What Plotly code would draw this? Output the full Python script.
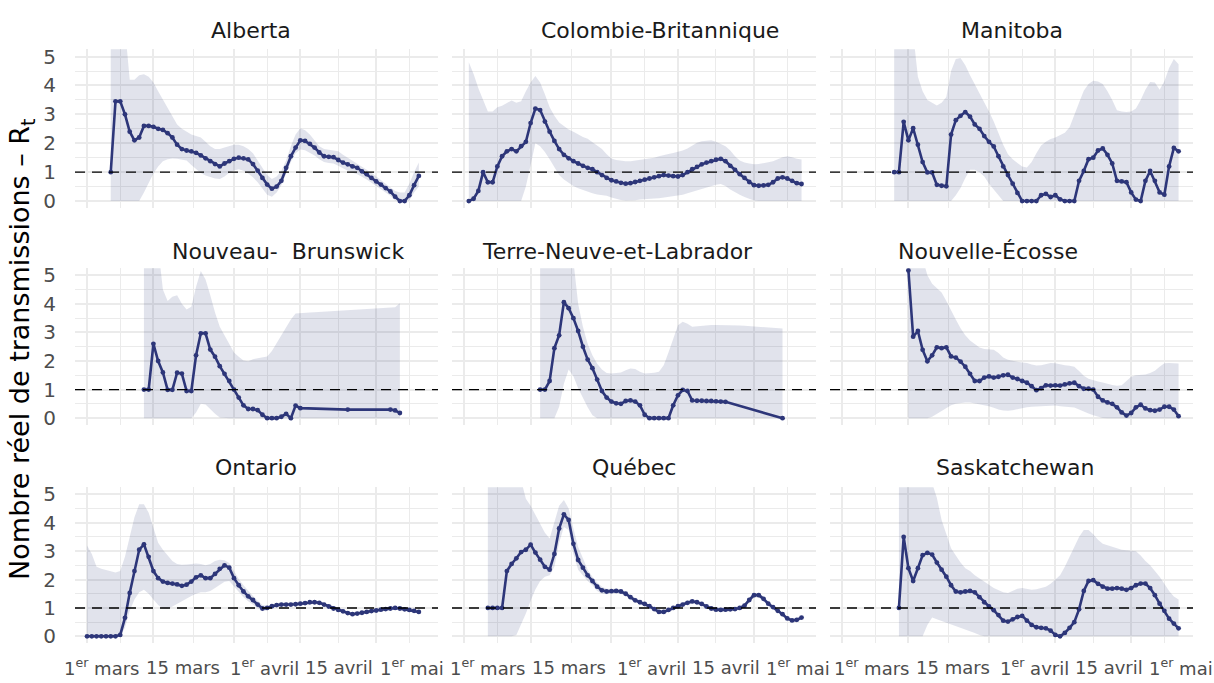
import plotly.graph_objects as go
import pandas as pd

# ---------------- data ----------------
panel_titles = ["Alberta", "Colombie-Britannique", "Manitoba",
                "Nouveau-\u00a0 Brunswick", "Terre-Neuve-et-Labrador", "Nouvelle-Écosse",
                "Ontario", "Québec", "Saskatchewan"]

y_ticks = [0, 1, 2, 3, 4, 5]
y_minor = [0.5, 1.5, 2.5, 3.5, 4.5]
ref_value = 1
x_tick_dates = ["2020-03-01", "2020-03-15", "2020-04-01", "2020-04-15", "2020-05-01"]
x_minor_dates = ["2020-03-08", "2020-03-23 12:00", "2020-04-08", "2020-04-23", "2020-05-08"]
x_tick_labels = ["1<sup>er</sup> mars", "15 mars", "1<sup>er</sup> avril", "15 avril", "1<sup>er</sup> mai"]

alberta_start = "2020-03-06"
alberta_rt = [1.0, 3.45, 3.45, 3.0, 2.4, 2.1, 2.2, 2.6, 2.6, 2.57, 2.5, 2.46, 2.35, 2.2, 1.95, 1.8, 1.75, 1.72, 1.67, 1.58,
              1.48, 1.38, 1.28, 1.2, 1.3, 1.38, 1.46, 1.5, 1.48, 1.44, 1.28, 1.05, 0.8, 0.57, 0.43, 0.5, 0.7, 1.15, 1.55, 1.85,
              2.1, 2.08, 1.98, 1.85, 1.68, 1.55, 1.53, 1.52, 1.42, 1.33, 1.27, 1.2, 1.15, 1.03, 0.93, 0.8, 0.68, 0.57, 0.45, 0.33,
              0.15, 0.0, 0.0, 0.2, 0.55, 0.87]
alberta_hi = [6, 6, 6, 6, 4.2, 4.2, 4.35, 4.39, 4.3, 4.1, 3.8, 3.5, 3.2, 2.9, 2.65, 2.5, 2.4, 2.3, 2.25, 2.2,
              2.05, 1.9, 1.8, 1.8, 1.85, 1.9, 1.95, 1.95, 1.9, 1.8, 1.65, 1.4, 1.15, 0.9, 0.76, 0.85, 1.05, 1.4, 1.9, 2.3,
              2.52, 2.45, 2.3, 2.1, 1.9, 1.8, 1.78, 1.75, 1.72, 1.6, 1.5, 1.4, 1.3, 1.2, 1.1, 0.98, 0.85, 0.72, 0.6, 0.48,
              0.35, 0.3, 0.3, 0.6, 1.0, 1.33]
alberta_lo = [0, 0, 0, 0, 0, 0, 0.0, 0.3, 0.65, 0.95, 1.2, 1.38, 1.45, 1.47, 1.46, 1.44, 1.4, 1.25, 1.1, 0.97,
              0.88, 0.82, 0.78, 0.76, 0.85, 0.98, 1.06, 1.1, 1.05, 0.95, 0.82, 0.65, 0.42, 0.22, 0.15, 0.3, 0.55, 0.95, 1.35, 1.65,
              1.78, 1.76, 1.68, 1.58, 1.45, 1.35, 1.32, 1.3, 1.22, 1.12, 1.05, 0.98, 0.93, 0.84, 0.75, 0.63, 0.52, 0.42, 0.3, 0.18,
              0.02, 0.0, 0.0, 0.02, 0.3, 0.5]

bc_start = "2020-03-02"
bc_rt = [0.0, 0.08, 0.35, 1.0, 0.65, 0.65, 1.2, 1.55, 1.72, 1.8, 1.72, 1.9, 2.05, 2.7, 3.2, 3.15, 2.75, 2.4, 2.08, 1.8,
         1.6, 1.48, 1.38, 1.3, 1.22, 1.15, 1.1, 1.0, 0.9, 0.8, 0.72, 0.68, 0.63, 0.6, 0.62, 0.66, 0.7, 0.74, 0.78, 0.82,
         0.86, 0.9, 0.88, 0.86, 0.85, 0.9, 1.0, 1.1, 1.18, 1.27, 1.33, 1.38, 1.43, 1.46, 1.38, 1.22, 1.08, 0.93, 0.8, 0.66,
         0.55, 0.53, 0.54, 0.56, 0.65, 0.78, 0.82, 0.78, 0.7, 0.62, 0.59]
bc_hi = [4.8, 4.4, 3.9, 3.5, 3.1, 3.1, 3.25, 3.3, 3.4, 3.48, 3.4, 3.45, 3.8, 4.1, 4.33, 4.1, 3.7, 3.25, 2.95, 2.72,
         2.6, 2.48, 2.4, 2.3, 2.22, 2.16, 2.05, 1.92, 1.8, 1.62, 1.47, 1.42, 1.39, 1.38, 1.38, 1.4, 1.42, 1.44, 1.47, 1.5,
         1.55, 1.6, 1.63, 1.66, 1.7, 1.75, 1.82, 1.92, 2.02, 2.07, 2.09, 2.1, 2.05, 1.98, 1.9, 1.75, 1.55, 1.4, 1.33, 1.3,
         1.27, 1.28, 1.3, 1.34, 1.38, 1.45, 1.52, 1.55, 1.52, 1.46, 1.44]
bc_lo = [0, 0, 0, 0, 0, 0, 0, 0, 0, 0, 0, 0, 0.5, 1.3, 2.0, 1.9, 1.7, 1.45, 1.15, 0.9,
         0.75, 0.62, 0.52, 0.44, 0.38, 0.32, 0.27, 0.23, 0.2, 0.18, 0.12, 0.07, 0.04, 0.02, 0.02, 0.03, 0.05, 0.07, 0.08, 0.09,
         0.1, 0.12, 0.14, 0.16, 0.19, 0.22, 0.27, 0.32, 0.37, 0.41, 0.45, 0.5, 0.56, 0.59, 0.52, 0.4, 0.3, 0.22, 0.14, 0.07,
         0.02, 0, 0, 0, 0, 0, 0, 0, 0, 0, 0]

manitoba_start = "2020-03-12"
manitoba_rt = [1.0, 1.0, 2.74, 2.1, 2.52, 1.95, 1.35, 0.99, 0.99, 0.56, 0.53, 0.51, 2.3, 2.8, 2.95, 3.08, 2.92, 2.65, 2.5, 2.25,
               2.05, 1.89, 1.55, 1.2, 0.9, 0.6, 0.28, 0.0, 0.0, 0.0, 0.0, 0.2, 0.25, 0.14, 0.2, 0.06, 0.0, 0.0, 0.0, 0.7,
               1.04, 1.45, 1.5, 1.75, 1.82, 1.6, 1.3, 0.7, 0.68, 0.65, 0.3, 0.05, 0.0, 0.7, 1.04, 0.7, 0.3, 0.22, 1.2, 1.84,
               1.72]
manitoba_hi = [6, 6, 6, 6, 5.8, 4.3, 3.8, 3.5, 3.4, 3.31, 3.4, 3.6, 4.5, 4.92, 4.95, 4.7, 4.35, 4.05, 3.75, 3.45,
               3.1, 2.75, 2.35, 1.95, 1.62, 1.45, 1.32, 1.2, 1.16, 1.35, 1.65, 1.92, 2.05, 2.15, 2.2, 2.28, 2.36, 2.55, 2.95, 3.4,
               3.82, 4.05, 4.16, 4.14, 4.05, 3.8, 3.5, 3.14, 3.1, 3.08, 3.1, 3.2, 3.5, 3.85, 4.12, 4.1, 3.85, 4.15, 4.6, 4.92,
               4.73]
manitoba_lo = [0, 0, 0, 0, 0, 0, 0, 0, 0, 0, 0, 0, 0, 0.2, 0.45, 0.8, 1.08, 1.08, 1.0, 0.85,
               0.6, 0.4, 0.18, 0, 0, 0, 0, 0, 0, 0, 0, 0, 0, 0, 0, 0, 0, 0, 0, 0,
               0, 0, 0, 0, 0, 0, 0, 0, 0, 0, 0, 0, 0, 0, 0, 0, 0, 0, 0, 0,
               0]

nb_start = "2020-03-13"
nb_rt = [1.0, 1.0, 2.6, 2.0, 1.6, 0.99, 0.99, 1.59, 1.56, 0.95, 0.95, 2.2, 2.97, 2.97, 2.4, 2.15, 1.82, 1.55, 1.3, 1.0,
         0.72, 0.45, 0.32, 0.32, 0.28, 0.12, 0.0, 0.0, 0.0, 0.05, 0.15, 0.0, 0.44, 0.35,
         None, None, None, None, None, None, None, None, None, 0.3,
         None, None, None, None, None, None, None, None, 0.3, 0.27, 0.18]
nb_hi = [6, 6, 6, 6, 4.5, 4.1, 4.25, 4.3, 4.0, 3.8, 3.9, 4.6, 5.15, 4.85, 4.3, 3.7, 3.2, 2.9, 2.55, 2.3,
         2.15, 2.02, 1.99, 2.06, 2.1, 2.12, 2.16, 2.35, 2.62, 2.9, 3.2, 3.45, 3.66, 3.68, 3.69, 3.7, 3.71, 3.72, 3.73, 3.74,
         3.75, 3.76, 3.77, 3.77, 3.78, 3.79, 3.8, 3.81, 3.82, 3.83, 3.84, 3.85, 3.86, 3.88, 4.02]
nb_lo = [0, 0, 0, 0, 0, 0, 0, 0, 0, 0, 0, 0.2, 0.5, 0.48, 0.3, 0.15, 0.02, 0, 0, 0,
         0, 0, 0, 0, 0, 0, 0, 0, 0, 0, 0, 0, 0, 0, 0, 0, 0, 0, 0, 0,
         0, 0, 0, 0, 0, 0, 0, 0, 0, 0, 0, 0, 0, 0, 0]

nl_start = "2020-03-17"
nl_rt = [1.0, 1.0, 1.3, 2.45, 2.9, 4.06, 3.85, 3.5, 3.05, 2.5, 2.05, 1.75, 1.35, 0.95, 0.72, 0.58, 0.52, 0.5, 0.6, 0.62,
         0.58, 0.45, 0.12, 0.0, 0.0, 0.0, 0.0, 0.0, 0.45, 0.8, 0.99, 0.95, 0.62, 0.61, 0.61, 0.6, 0.6, 0.59, 0.58, 0.57,
         None, None, None, None, None, None, None, None, None, None, None, 0.0]
nl_hi = [6, 6, 6, 6, 6, 6, 6, 5.5, 4.0, 3.2, 2.6, 2.2, 1.9, 1.7, 1.58, 1.56, 1.58, 1.6, 1.68, 1.74,
         1.72, 1.62, 1.56, 1.57, 1.59, 1.62, 1.85, 2.3, 2.8, 3.25, 3.37, 3.3, 3.2, 3.22, 3.24, 3.25, 3.26, 3.26, 3.26, 3.25,
         3.25, 3.25, 3.24, 3.23, 3.22, 3.21, 3.2, 3.18, 3.17, 3.16, 3.15, 3.14]
nl_lo = [0, 0, 0, 0, 0.4, 1.2, 1.7, 1.47, 1.05, 0.7, 0.38, 0.1, 0.0, 0, 0, 0, 0, 0, 0, 0,
         0, 0, 0, 0, 0, 0, 0, 0, 0, 0, 0, 0, 0, 0, 0, 0, 0, 0, 0, 0,
         0, 0, 0, 0, 0, 0, 0, 0, 0, 0, 0, 0]

ns_start = "2020-03-15"
ns_rt = [5.17, 2.85, 3.05, 2.39, 1.99, 2.2, 2.48, 2.45, 2.48, 2.16, 2.12, 1.98, 1.8, 1.55, 1.3, 1.3, 1.42, 1.46, 1.42, 1.45,
         1.5, 1.52, 1.42, 1.37, 1.3, 1.24, 1.12, 0.98, 1.05, 1.15, 1.14, 1.15, 1.14, 1.18, 1.22, 1.24, 1.12, 1.03, 1.03, 1.0,
         0.75, 0.62, 0.55, 0.5, 0.38, 0.2, 0.09, 0.18, 0.38, 0.47, 0.34, 0.28, 0.26, 0.3, 0.4, 0.4, 0.3, 0.07]
ns_hi = [6, 6, 6, 5.6, 5.0, 4.7, 4.55, 4.4, 4.1, 3.75, 3.45, 3.15, 2.9, 2.72, 2.58, 2.47, 2.42, 2.4, 2.39, 2.28,
         2.12, 2.04, 2.0, 1.97, 1.95, 1.93, 1.88, 1.84, 1.85, 1.9, 1.93, 1.92, 1.88, 1.85, 1.83, 1.8, 1.65, 1.48, 1.38, 1.32,
         1.28, 1.25, 1.2, 1.16, 1.13, 1.15, 1.3, 1.45, 1.5, 1.52, 1.53, 1.58, 1.66, 1.8, 1.92, 1.93, 1.92, 1.91]
ns_lo = [0, 0, 0, 0, 0, 0.05, 0.15, 0.24, 0.35, 0.45, 0.5, 0.53, 0.55, 0.55, 0.52, 0.48, 0.45, 0.42, 0.36, 0.3,
         0.27, 0.26, 0.28, 0.32, 0.35, 0.38, 0.4, 0.41, 0.42, 0.43, 0.44, 0.44, 0.42, 0.4, 0.39, 0.37, 0.3, 0.22, 0.16, 0.1,
         0.05, 0.01, 0, 0, 0, 0, 0, 0, 0, 0, 0, 0, 0, 0, 0, 0, 0, 0]

ontario_start = "2020-03-01"
ontario_rt = [0, 0, 0, 0, 0, 0, 0, 0.05, 0.65, 1.53, 2.3, 3.05, 3.24, 2.8, 2.3, 2.05, 1.93, 1.88, 1.86, 1.83,
              1.78, 1.82, 1.93, 2.08, 2.15, 2.05, 2.05, 2.2, 2.38, 2.5, 2.42, 2.05, 1.8, 1.58, 1.41, 1.28, 1.12, 0.98, 1.0, 1.06,
              1.1, 1.12, 1.12, 1.12, 1.13, 1.15, 1.17, 1.2, 1.2, 1.18, 1.12, 1.05, 0.98, 0.93, 0.88, 0.82, 0.78, 0.8, 0.83, 0.86,
              0.89, 0.91, 0.94, 0.96, 0.98, 1.0, 0.98, 0.95, 0.93, 0.9, 0.86]
ontario_hi = [3.2, 2.9, 2.45, 2.38, 2.34, 2.3, 2.25, 2.3, 2.8, 3.5, 4.2, 4.65, 4.65, 4.35, 3.8, 3.3, 3.05, 2.85, 2.65, 2.55,
              2.52, 2.53, 2.56, 2.57, 2.55, 2.5, 2.55, 2.65, 2.7, 2.68, 2.58, 2.3, 2.02, 1.8, 1.6, 1.42, 1.25, 1.1, 1.08, 1.12,
              1.16, 1.18, 1.18, 1.18, 1.19, 1.21, 1.23, 1.26, 1.26, 1.24, 1.18, 1.11, 1.04, 0.99, 0.94, 0.88, 0.84, 0.86, 0.89, 0.92,
              0.95, 0.97, 1.0, 1.02, 1.04, 1.06, 1.04, 1.01, 0.99, 0.96, 0.93]
ontario_lo = [0, 0, 0, 0, 0, 0, 0, 0, 0.3, 0.9, 1.3, 1.55, 1.64, 1.5, 1.3, 1.1, 0.98, 0.96, 1.05, 1.15,
              1.25, 1.35, 1.42, 1.5, 1.55, 1.55, 1.6, 1.7, 1.82, 1.92, 1.95, 1.75, 1.55, 1.38, 1.24, 1.13, 1.0, 0.88, 0.92, 1.0,
              1.04, 1.06, 1.06, 1.06, 1.07, 1.09, 1.11, 1.14, 1.14, 1.12, 1.06, 0.99, 0.92, 0.87, 0.82, 0.76, 0.72, 0.74, 0.77, 0.8,
              0.83, 0.85, 0.88, 0.9, 0.92, 0.94, 0.92, 0.89, 0.87, 0.84, 0.8]

quebec_start = "2020-03-06"
quebec_rt = [1.0, 1.0, 1.0, 1.0, 2.3, 2.55, 2.75, 2.97, 3.05, 3.23, 2.95, 2.7, 2.45, 2.35, 2.9, 3.8, 4.3, 4.1, 3.26, 2.69,
             2.42, 2.15, 1.95, 1.75, 1.62, 1.58, 1.59, 1.6, 1.58, 1.5, 1.38, 1.27, 1.2, 1.14, 1.06, 0.96, 0.86, 0.86, 0.93, 1.0,
             1.06, 1.12, 1.18, 1.23, 1.2, 1.14, 1.05, 0.98, 0.94, 0.93, 0.94, 0.95, 0.96, 1.0, 1.08, 1.28, 1.45, 1.45, 1.32, 1.15,
             1.03, 0.9, 0.78, 0.63, 0.56, 0.58, 0.66]
quebec_hi = [6, 6, 6, 6, 6, 6, 6, 5.5, 4.85, 4.6, 4.3, 4.0, 3.65, 3.45, 4.0, 4.6, 4.8, 4.5, 3.8, 3.15,
             2.75, 2.35, 2.1, 1.9, 1.75, 1.68, 1.67, 1.68, 1.66, 1.58, 1.46, 1.35, 1.27, 1.21, 1.13, 1.03, 0.93, 0.93, 1.0, 1.07,
             1.13, 1.19, 1.25, 1.3, 1.27, 1.21, 1.12, 1.05, 1.01, 1.0, 1.01, 1.02, 1.03, 1.07, 1.15, 1.36, 1.53, 1.53, 1.4, 1.23,
             1.1, 0.97, 0.85, 0.7, 0.63, 0.65, 0.73]
quebec_lo = [0, 0, 0, 0, 0, 0, 0.05, 0.4, 0.8, 1.25, 1.65, 1.95, 2.1, 2.15, 2.45, 3.3, 3.85, 3.75, 2.9, 2.35,
             2.15, 1.95, 1.8, 1.6, 1.5, 1.48, 1.51, 1.52, 1.5, 1.42, 1.3, 1.2, 1.13, 1.07, 0.99, 0.89, 0.79, 0.79, 0.86, 0.93,
             0.99, 1.05, 1.11, 1.16, 1.13, 1.07, 0.98, 0.91, 0.87, 0.86, 0.87, 0.88, 0.89, 0.93, 1.01, 1.2, 1.37, 1.37, 1.24, 1.07,
             0.96, 0.83, 0.71, 0.56, 0.49, 0.51, 0.59]

sask_start = "2020-03-13"
sask_rt = [1.0, 3.5, 2.4, 1.95, 2.4, 2.86, 2.94, 2.88, 2.6, 2.35, 2.1, 1.8, 1.58, 1.55, 1.58, 1.6, 1.55, 1.38, 1.2, 1.05,
           0.92, 0.75, 0.55, 0.52, 0.6, 0.68, 0.72, 0.55, 0.4, 0.32, 0.3, 0.28, 0.2, 0.05, 0.0, 0.12, 0.3, 0.5, 0.95, 1.6,
           1.95, 1.98, 1.85, 1.75, 1.68, 1.68, 1.7, 1.68, 1.64, 1.7, 1.8, 1.86, 1.86, 1.7, 1.45, 1.15, 0.9, 0.62, 0.45, 0.28]
sask_hi = [6, 6, 6, 6, 6, 6, 6, 5.4, 4.88, 4.1, 3.6, 3.1, 2.85, 2.6, 2.4, 2.3, 2.15, 2.05, 1.95, 1.82,
           1.7, 1.62, 1.55, 1.53, 1.6, 1.68, 1.7, 1.67, 1.64, 1.66, 1.7, 1.75, 1.85, 2.0, 2.15, 2.45, 2.8, 3.15, 3.5, 3.75,
           3.75, 3.6, 3.4, 3.26, 3.2, 3.15, 3.1, 3.05, 3.03, 3.03, 3.0, 2.85, 2.65, 2.5, 2.3, 2.1, 1.85, 1.6, 1.4, 1.3]
sask_lo = [0, 0, 0, 0, 0, 0, 0.4, 0.66, 0.6, 0.54, 0.48, 0.42, 0.37, 0.3, 0.25, 0.2, 0.12, 0.05, 0.0, 0,
           0, 0, 0, 0, 0, 0, 0, 0, 0, 0, 0, 0, 0, 0, 0, 0, 0, 0, 0, 0,
           0, 0, 0, 0, 0, 0, 0, 0, 0, 0, 0, 0, 0, 0, 0, 0, 0, 0, 0, 0]

series = [
    (alberta_start, alberta_rt, alberta_lo, alberta_hi),
    (bc_start, bc_rt, bc_lo, bc_hi),
    (manitoba_start, manitoba_rt, manitoba_lo, manitoba_hi),
    (nb_start, nb_rt, nb_lo, nb_hi),
    (nl_start, nl_rt, nl_lo, nl_hi),
    (ns_start, ns_rt, ns_lo, ns_hi),
    (ontario_start, ontario_rt, ontario_lo, ontario_hi),
    (quebec_start, quebec_rt, quebec_lo, quebec_hi),
    (sask_start, sask_rt, sask_lo, sask_hi),
]

# ---------------- layout / style ----------------
W, H = 1214, 683
FONT = "DejaVu Sans, Liberation Sans, Arial, sans-serif"
LINE_COLOR = "#2D3679"
RIBBON = "rgba(45,54,121,0.14)"
GRID = "#EBEBEB"
TICK_GREY = "#4D4D4D"
x_range = ["2020-02-27 11:00", "2020-05-14 01:00"]
y_range = [-0.25, 5.25]

col_px = [(75, 438), (452, 816), (830, 1193)]
row_px = [(45.0, 206.3), (267.05, 426.55), (489.5, 647.9)]
title_cx = [251, 659.5, 1011.7, 288, 617.5, 987.5, 255.8, 634, 1015]
title_cy = [26.3, 250, 469.7]
label_left_shift = [-24.7, -9.1, -5.6, 3.0, 1.6]
col_label_shift = [0, 8.7, 14.3]
label_cy = 672

fig = go.Figure()
layout = dict(width=W, height=H, margin=dict(l=0, r=0, t=0, b=0),
              plot_bgcolor="white", paper_bgcolor="white", showlegend=False,
              font=dict(family=FONT, color=TICK_GREY), shapes=[], annotations=[])

for i, (start, rt, lo, hi) in enumerate(series):
    r, c = divmod(i, 3)
    n = i + 1
    xa = "x" if n == 1 else f"x{n}"
    ya = "y" if n == 1 else f"y{n}"
    dates = pd.date_range(start, periods=len(rt), freq="D")

    fig.add_trace(go.Scatter(x=dates, y=hi, mode="lines", line=dict(width=0, color=RIBBON),
                             xaxis=xa, yaxis=ya, hoverinfo="skip"))
    fig.add_trace(go.Scatter(x=dates, y=lo, mode="lines", line=dict(width=0, color=RIBBON),
                             fill="tonexty", fillcolor=RIBBON, xaxis=xa, yaxis=ya, hoverinfo="skip"))
    fig.add_trace(go.Scatter(x=dates, y=rt, mode="lines+markers", connectgaps=True,
                             line=dict(color=LINE_COLOR, width=2.6),
                             marker=dict(color=LINE_COLOR, size=4.8),
                             xaxis=xa, yaxis=ya))

    x0, x1 = col_px[c]
    y0, y1 = row_px[r]
    layout[f"xaxis{'' if n == 1 else n}"] = dict(
        domain=[x0 / W, x1 / W], anchor=ya, type="date", range=x_range,
        tickvals=x_tick_dates, showticklabels=False, ticks="",
        showgrid=True, gridcolor=GRID, gridwidth=1.6, zeroline=False, showline=False,
        minor=dict(tickvals=x_minor_dates, showgrid=True, gridcolor=GRID, gridwidth=0.8, ticks=""),
        fixedrange=True)
    layout[f"yaxis{'' if n == 1 else n}"] = dict(
        domain=[1 - y1 / H, 1 - y0 / H], anchor=xa, range=y_range,
        tickvals=y_ticks, showticklabels=(c == 0), ticks="", ticklabelstandoff=18,
        tickfont=dict(family=FONT, size=20, color=TICK_GREY),
        showgrid=True, gridcolor=GRID, gridwidth=1.6, zeroline=False, showline=False,
        minor=dict(tickvals=y_minor, showgrid=True, gridcolor=GRID, gridwidth=0.8, ticks=""),
        fixedrange=True)

    layout["shapes"].append(dict(type="line", xref=f"{xa} domain", x0=0, x1=1,
                                 yref=ya, y0=ref_value, y1=ref_value, layer="above",
                                 line=dict(color="black", width=1.4, dash="10px,7px")))

    layout["annotations"].append(dict(text=panel_titles[i], xref="paper", yref="paper",
                                      x=title_cx[i] / W, y=1 - title_cy[r] / H,
                                      xanchor="center", yanchor="middle", showarrow=False,
                                      font=dict(family=FONT, size=22, color="#1A1A1A")))

    if r == 2:
        for k, (d, lab) in enumerate(zip(x_tick_dates, x_tick_labels)):
            layout["annotations"].append(dict(text=lab, xref=xa, x=d, yref="paper", y=1 - label_cy / H,
                                              xshift=label_left_shift[k] + col_label_shift[c],
                                              xanchor="left", yanchor="middle", showarrow=False,
                                              font=dict(family=FONT, size=18, color=TICK_GREY)))

layout["annotations"].append(dict(text="Nombre réel de transmissions – R<sub>t</sub>",
                                  xref="paper", yref="paper", x=22 / W, y=1 - 350 / H,
                                  textangle=-90, xanchor="center", yanchor="middle", showarrow=False,
                                  font=dict(family=FONT, size=27, color="black")))

fig.update_layout(**layout)
fig.write_html("out.html", include_plotlyjs=True, config={"displayModeBar": False},
               post_script="document.body.style.margin='0';document.body.style.overflow='hidden';")
